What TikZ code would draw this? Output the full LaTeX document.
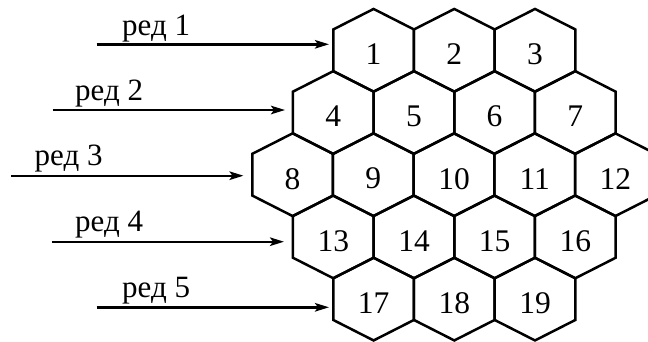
\documentclass[tikz,border=0pt]{standalone}
\usepackage{fontspec}
\setmainfont{Liberation Serif}
\newfontfamily\cellfont{Liberation Serif}
\usetikzlibrary{arrows.meta}
\begin{document}
\begin{tikzpicture}[x=1pt,y=-1pt,
  cell/.style={line width=2.5pt, line join=miter},
  num/.style={font=\cellfont\fontsize{31.5}{36}\selectfont, inner sep=0pt},
  rowlabel/.style={font=\cellfont\fontsize{31}{36}\selectfont, inner sep=0pt, anchor=base west},
  feed/.style={line width=2.4pt, -{Stealth[length=14pt,width=8.5pt,inset=3pt]}}]
\useasboundingbox (0,0) rectangle (648,341);
\clip (0,0) rectangle (648,341);
% half width, half height and half side of one cell
\def\hw{40.35}
\def\hv{41.35}
\def\hs{20.85}
\foreach \n/\cx/\cy in {
  1/373.6/50.3, 2/454.3/50.3, 3/535.0/50.3,
  4/333.3/112.5, 5/414.0/112.5, 6/494.6/112.5, 7/575.3/112.5,
  8/292.6/174.7, 9/373.3/174.7, 10/454.0/174.7, 11/534.7/174.7, 12/615.4/174.7,
  13/333.3/236.9, 14/414.0/236.9, 15/494.6/236.9, 16/575.3/236.9,
  17/373.6/299.1, 18/454.3/299.1, 19/535.0/299.1} {
  \draw[cell] (\cx,\cy-\hv) -- (\cx+\hw,\cy-\hs) -- (\cx+\hw,\cy+\hs)
     -- (\cx,\cy+\hv) -- (\cx-\hw,\cy+\hs) -- (\cx-\hw,\cy-\hs) -- cycle;
  \node[num] (n\n) at (\cx,\cy+4) {\n};
}
% row feeds
\coordinate (a1) at (96.7,44.3);  \coordinate (b1) at (329,44.3);
\coordinate (a2) at (52.7,110);   \coordinate (b2) at (285,110);
\coordinate (a3) at (11,175.7);   \coordinate (b3) at (243.5,175.7);
\coordinate (a4) at (51.7,241.7); \coordinate (b4) at (284,241.7);
\coordinate (a5) at (96.7,307.3); \coordinate (b5) at (329,307.3);
\foreach \i in {1,...,5} { \draw[feed] (a\i) -- (b\i); }
\node[rowlabel] (r1) at (122,35) {ред 1};
\node[rowlabel] (r2) at (75,100.5) {ред 2};
\node[rowlabel] (r3) at (34.5,165.5) {ред 3};
\node[rowlabel] (r4) at (75,231.5) {ред 4};
\node[rowlabel] (r5) at (122,297) {ред 5};
\end{tikzpicture}
\end{document}
